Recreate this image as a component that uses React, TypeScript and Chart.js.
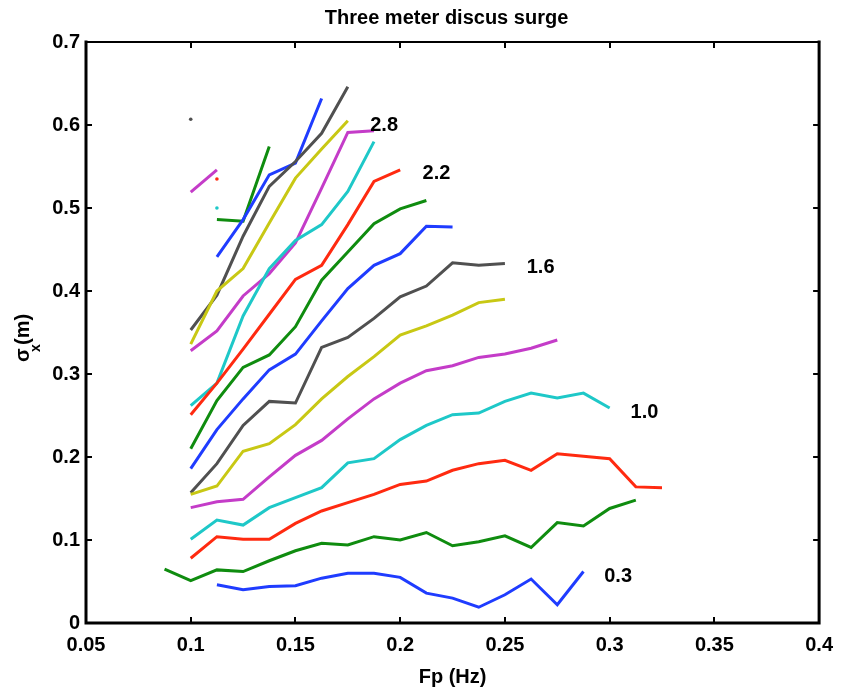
import React, { useEffect, useRef } from "react";
import { Chart, registerables } from "chart.js";

Chart.register(...registerables);

// Peak frequency bins (Hz)
const FP = [0.0875, 0.1, 0.1125, 0.125, 0.1375, 0.15, 0.1625, 0.175, 0.1875, 0.2, 0.2125, 0.225, 0.2375, 0.25, 0.2625, 0.275, 0.2875, 0.3, 0.3125, 0.325];

// Surge std (m) per curve; START gives index into FP of the first value
const C01 = [0.046, 0.040, 0.044, 0.045, 0.054, 0.060, 0.060, 0.055, 0.036, 0.030, 0.019, 0.034, 0.053, 0.022, 0.062];
const C02 = [0.065, 0.051, 0.064, 0.062, 0.075, 0.087, 0.096, 0.094, 0.104, 0.100, 0.109, 0.093, 0.098, 0.105, 0.091, 0.121, 0.117, 0.138, 0.148];
const C03 = [0.078, 0.104, 0.101, 0.101, 0.120, 0.135, 0.145, 0.155, 0.167, 0.171, 0.184, 0.192, 0.196, 0.184, 0.204, 0.201, 0.198, 0.164, 0.163];
const C04 = [0.101, 0.124, 0.118, 0.139, 0.151, 0.163, 0.193, 0.198, 0.221, 0.238, 0.251, 0.253, 0.267, 0.277, 0.271, 0.277, 0.259];
const C05 = [0.139, 0.146, 0.149, 0.176, 0.202, 0.220, 0.246, 0.270, 0.289, 0.304, 0.310, 0.320, 0.324, 0.331, 0.341];
const C06 = [0.155, 0.165, 0.207, 0.216, 0.239, 0.270, 0.297, 0.321, 0.347, 0.358, 0.371, 0.386, 0.390];
const C07 = [0.157, 0.192, 0.238, 0.267, 0.265, 0.332, 0.344, 0.367, 0.393, 0.406, 0.434, 0.431, 0.433];
const C08 = [0.186, 0.233, 0.270, 0.305, 0.324, 0.364, 0.403, 0.431, 0.445, 0.478, 0.477];
const C09 = [0.210, 0.268, 0.308, 0.323, 0.357, 0.413, 0.447, 0.481, 0.499, 0.509];
const C10 = [0.251, 0.289, 0.330, 0.372, 0.414, 0.431, 0.480, 0.532, 0.546];
const C11 = [0.262, 0.289, 0.370, 0.427, 0.461, 0.480, 0.520, 0.580];
const C12 = [0.328, 0.352, 0.394, 0.421, 0.458, 0.524, 0.591, 0.593];
const C13 = [0.336, 0.400, 0.427, 0.482, 0.536, 0.571, 0.605];
const C14 = [0.353, 0.395, 0.466, 0.526, 0.556, 0.590, 0.646];
const C15 = [0.441, 0.486, 0.540, 0.554, 0.632];
const C16 = [0.486, 0.484, 0.574];
const C17 = [0.535];
const C18 = [0.500];
const C19 = [0.519, 0.546];
const C20 = [0.607];

const CURVES = [C01, C02, C03, C04, C05, C06, C07, C08, C09, C10, C11, C12, C13, C14, C15, C16, C17, C18, C19, C20];
const START = [2, 0, 1, 1, 1, 1, 1, 1, 1, 1, 1, 1, 1, 1, 2, 2, 2, 2, 1, 1];
const COLORS = [
  "#1f3cff", "#0f8c0f", "#ff2a10", "#1ec8c8", "#c43cc8", "#c8c814", "#505050",
  "#1f3cff", "#0f8c0f", "#ff2a10", "#1ec8c8", "#c43cc8", "#c8c814", "#505050",
  "#1f3cff", "#0f8c0f", "#ff2a10", "#1ec8c8", "#c43cc8", "#505050",
];

// Curve annotations (significant wave height)
const LABEL_TEXT = ["2.8", "2.2", "1.6", "1.0", "0.3"];
const LABEL_X = [0.1857, 0.2107, 0.2604, 0.3100, 0.2974];
const LABEL_Y = [0.593, 0.535, 0.422, 0.247, 0.049];

const X_TICKS = [0.05, 0.1, 0.15, 0.2, 0.25, 0.3, 0.35, 0.4];
const Y_TICKS = [0, 0.1, 0.2, 0.3, 0.4, 0.5, 0.6, 0.7];

const TITLE = "Three meter discus surge";
const X_TITLE = "Fp (Hz)";

const FONT = "'Liberation Sans', Arial, Helvetica, sans-serif";

const framePlugin = {
  id: "matlabFrame",
  afterDraw(chart: any) {
    const { ctx, chartArea, scales } = chart;
    const { left, right, top, bottom } = chartArea;
    const xs = scales.x;
    const ys = scales.y;
    ctx.save();
    ctx.strokeStyle = "#000";
    ctx.lineCap = "square";
    // frame
    ctx.lineWidth = 3;
    ctx.beginPath();
    ctx.moveTo(left, top);
    ctx.lineTo(left, bottom);
    ctx.lineTo(right, bottom);
    ctx.lineTo(right, top);
    ctx.stroke();
    ctx.lineWidth = 2;
    ctx.beginPath();
    ctx.moveTo(left, top);
    ctx.lineTo(right, top);
    ctx.stroke();
    // inward ticks
    ctx.lineWidth = 2;
    ctx.lineCap = "butt";
    ctx.beginPath();
    X_TICKS.forEach((v) => {
      const px = Math.round(xs.getPixelForValue(v));
      ctx.moveTo(px, bottom);
      ctx.lineTo(px, bottom - 6);
      ctx.moveTo(px, top);
      ctx.lineTo(px, top + 6);
    });
    Y_TICKS.forEach((v) => {
      const py = Math.round(ys.getPixelForValue(v));
      ctx.moveTo(left, py);
      ctx.lineTo(left + 6, py);
      ctx.moveTo(right, py);
      ctx.lineTo(right - 6, py);
    });
    ctx.stroke();

    ctx.fillStyle = "#000";
    // curve labels
    ctx.font = `bold 20px ${FONT}`;
    ctx.textAlign = "left";
    ctx.textBaseline = "alphabetic";
    LABEL_TEXT.forEach((t, i) => {
      ctx.fillText(t, xs.getPixelForValue(LABEL_X[i]), ys.getPixelForValue(LABEL_Y[i]));
    });

    // title
    ctx.textAlign = "center";
    ctx.fillText(TITLE, (left + right) / 2 - 6, 24);
    // x title
    ctx.fillText(X_TITLE, (left + right) / 2, 683);

    // y title: sigma_x (m), rotated
    ctx.translate(29, 362);
    ctx.rotate(-Math.PI / 2);
    ctx.textAlign = "left";
    ctx.font = `bold 20px ${FONT}`;
    ctx.fillText("σ", 0, 0);
    ctx.font = `bold 14px ${FONT}`;
    ctx.fillText("x", 10, 11);
    ctx.font = `bold 20px ${FONT}`;
    ctx.fillText("(m)", 17, 0);
    ctx.restore();
  },
};

const fmt = (v: number) => String(parseFloat(Number(v).toFixed(3)));

export default function App() {
  const ref = useRef<HTMLCanvasElement | null>(null);
  useEffect(() => {
    if (!ref.current) return;
    const datasets = CURVES.map((vals, i) => ({
      data: vals.map((y, j) => ({ x: FP[START[i] + j], y })),
      borderColor: COLORS[i],
      backgroundColor: COLORS[i],
      borderWidth: 3,
      pointRadius: vals.length === 1 ? 1.8 : 0,
      pointBorderWidth: 0,
      showLine: vals.length > 1,
      fill: false,
      tension: 0,
    }));
    const chart = new Chart(ref.current, {
      type: "line",
      data: { datasets },
      options: {
        animation: false,
        responsive: false,
        devicePixelRatio: 1,
        layout: { padding: { left: 0, right: 18, top: 42, bottom: 0 } },
        plugins: { legend: { display: false }, title: { display: false }, tooltip: { enabled: false } },
        scales: {
          x: {
            type: "linear",
            min: 0.05,
            max: 0.4,
            grid: { display: false, drawTicks: false },
            border: { display: false },
            ticks: {
              stepSize: 0.05,
              autoSkip: false,
              maxRotation: 0,
              padding: 10,
              color: "#000",
              font: { family: FONT, size: 20, weight: "bold" },
              callback: (v: any) => fmt(v),
            },
            afterFit: (s: any) => {
              s.height = 73;
            },
          },
          y: {
            type: "linear",
            min: 0,
            max: 0.7,
            grid: { display: false, drawTicks: false },
            border: { display: false },
            ticks: {
              stepSize: 0.1,
              autoSkip: false,
              padding: 6,
              color: "#000",
              font: { family: FONT, size: 20, weight: "bold" },
              callback: (v: any) => fmt(v),
            },
            afterFit: (s: any) => {
              s.width = 86;
            },
          },
        },
      } as any,
      plugins: [framePlugin],
    });
    return () => chart.destroy();
  }, []);
  return (
    <div style={{ position: "absolute", left: 0, top: 0, width: 843, height: 696, background: "#fff" }}>
      <canvas ref={ref} width={843} height={696} style={{ display: "block" }} />
    </div>
  );
}
